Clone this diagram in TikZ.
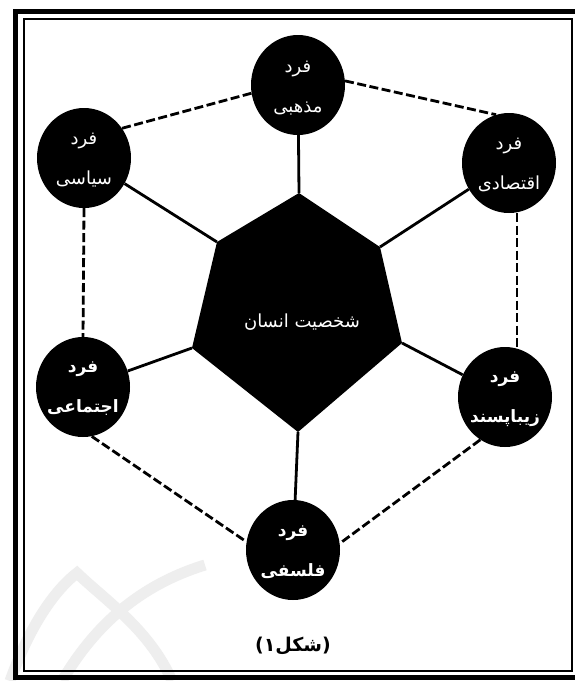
\documentclass[tikz,border=0pt]{standalone}
\usepackage{fontspec}
\usetikzlibrary{shapes.geometric}
\TeXXeTstate=1
\newfontfamily\arabicfont[Script=Arabic]{DejaVu Sans}
\begin{document}
\begin{tikzpicture}[x=1pt,y=-1pt,
  person/.style={ellipse, fill=black, minimum width=94pt, minimum height=100pt, inner sep=0pt},
  ptxt/.style={text=white, font=\arabicfont\fontsize{18}{21}\selectfont, align=center, inner sep=0pt},
  pbold/.style={ptxt, font=\arabicfont\bfseries\fontsize{17}{21}\selectfont},
  solidlink/.style={line width=2.8pt},
  dashlink/.style={line width=2.8pt, dash pattern=on 9pt off 3.5pt},
  wm/.style={gray!13, line width=11pt}
]
\useasboundingbox (0,0) rectangle (574,681);
\fill[white] (0,0) rectangle (574,681);
% faint watermark
\draw[wm] (10,681) .. controls (30,625) and (55,590) .. (77,573) .. controls (105,600) and (150,630) .. (172,681);
\draw[wm] (62,681) .. controls (95,625) and (140,585) .. (205,565);
% frame
\draw[line width=5pt] (590,11) -- (15,11) -- (15,677) -- (590,677);
\draw[line width=2.5pt] (24,19) rectangle (572,671);
% hexagon
\coordinate (hT) at (299,193);
\coordinate (hUR) at (380,247);
\coordinate (hLR) at (402,343);
\coordinate (hB) at (298,432);
\coordinate (hLL) at (192,348);
\coordinate (hUL) at (217,242);
\fill (hT) -- (hUR) -- (hLR) -- (hB) -- (hLL) -- (hUL) -- cycle;
\node[ptxt] (core) at (302,322) {\beginR شخصیت انسان\endR};
% persons
\node[person] (madh) at (298,85) {};
\node[person] (siya) at (84,158) {};
\node[person] (eqt) at (509,163) {};
\node[person] (ejt) at (83,387) {};
\node[person] (ziba) at (505,397) {};
\node[person] (fals) at (293,550) {};
\node[ptxt] (madhT) at (298,88) {\beginR فرد\endR\\[19pt]\beginR مذهبی\endR};
\node[ptxt] (siyaT) at (84,160) {\beginR فرد\endR\\[19pt]\beginR سیاسی\endR};
\node[ptxt] (eqtT) at (509,165) {\beginR فرد\endR\\[19pt]\beginR اقتصادی\endR};
\node[pbold] (ejtT) at (83,389) {\beginR فرد\endR\\[19pt]\beginR اجتماعی\endR};
\node[pbold] (zibaT) at (505,399) {\beginR فرد\endR\\[19pt]\beginR زیباپسند\endR};
\node[pbold] (falsT) at (293,552) {\beginR فرد\endR\\[19pt]\beginR فلسفی\endR};
% solid connectors
\draw[solidlink] (hT) -- (madh);
\draw[solidlink] (hUL) -- (siya);
\draw[solidlink] (hUR) -- (eqt);
\draw[solidlink] (hLL) -- (ejt);
\draw[solidlink] (hLR) -- (ziba);
\draw[solidlink] (hB) -- (fals);
% dashed connectors
\draw[dashlink] (madh.190) -- (siya.38);
\draw[dashlink] (madh.5) -- (eqt.105);
\draw[dashlink] (siya.south) -- (ejt.north);
\draw[dashlink] ([xshift=8pt]eqt.south) -- ([xshift=12pt]ziba.north);
\draw[dashlink] (ejt.-80) -- (fals.170);
\draw[dashlink] (ziba.240) -- (fals.8);
% caption
\node[font=\arabicfont\bfseries\fontsize{19}{22}\selectfont, inner sep=0pt] (cap) at (293,646) {\beginR(شکل۱)\endR};
\end{tikzpicture}
\end{document}
